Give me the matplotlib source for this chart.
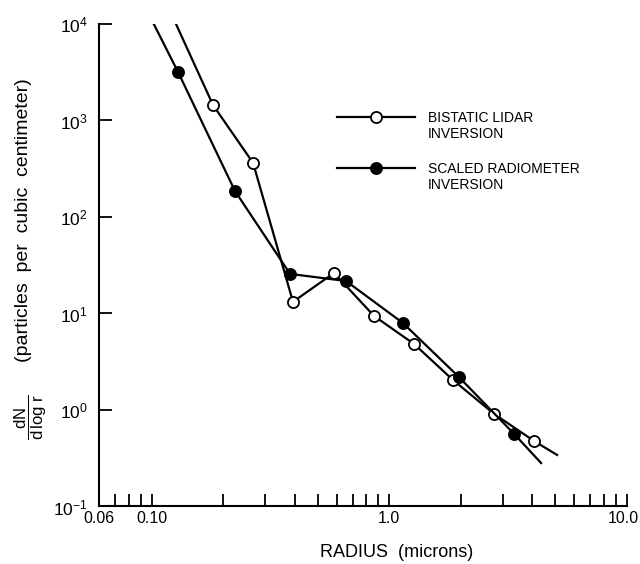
import matplotlib
matplotlib.use("Agg")
import numpy as np
import matplotlib.pyplot as plt
import matplotlib.transforms as mtransforms
from matplotlib.ticker import FixedLocator, NullFormatter, LogFormatterSciNotation
from matplotlib.lines import Line2D

plt.rcParams['font.family'] = ['Liberation Sans', 'DejaVu Sans']
plt.rcParams['mathtext.fontset'] = 'custom'
plt.rcParams['mathtext.rm'] = 'Liberation Sans'
plt.rcParams['mathtext.it'] = 'Liberation Sans'

# bistatic lidar inversion (first and last entries are the line ends, no marker)
lidar_r = [0.1265, 0.181, 0.267, 0.393, 0.585, 0.862, 1.27, 1.85, 2.76, 4.06, 5.08]
lidar_n = [10000, 1448, 363, 13.2, 26.3, 9.42, 4.83, 2.05, 0.91, 0.477, 0.342]

# scaled radiometer inversion
radio_r = [0.102, 0.129, 0.224, 0.382, 0.657, 1.14, 1.96, 3.35, 4.35]
radio_n = [10000, 3180, 186, 25.7, 21.7, 7.97, 2.20, 0.564, 0.282]

xticks_major = [0.06, 0.10, 1.0, 10.0]
xtick_labels = ["0.06", "0.10", "1.0", "10.0"]
xticks_minor = [0.07, 0.08, 0.09, 0.2, 0.3, 0.4, 0.5, 0.6, 0.7, 0.8, 0.9,
                2, 3, 4, 5, 6, 7, 8, 9]

fig = plt.figure(figsize=(6.4, 5.64), dpi=100)
ax = fig.add_axes([0.1547, 0.102, 0.825, 0.8555])

ax.plot(lidar_r, lidar_n, color='black', lw=1.6, marker='o', ms=8,
        mfc='white', mec='black', mew=1.3, markevery=slice(1, -1))
ax.plot(radio_r, radio_n, color='black', lw=1.6, marker='o', ms=8,
        mfc='black', mec='black', mew=1.3, markevery=slice(1, -1))

ax.set_xscale('log')
ax.set_yscale('log')
ax.set_xlim(0.06, 10.0)
ax.set_ylim(0.1, 1e4)

ax.spines['top'].set_visible(False)
ax.spines['right'].set_visible(False)
ax.spines['left'].set_linewidth(1.5)
ax.spines['bottom'].set_linewidth(1.5)

ax.xaxis.set_major_locator(FixedLocator(xticks_major))
ax.set_xticklabels(xtick_labels)
ax.xaxis.set_minor_locator(FixedLocator(xticks_minor))
ax.xaxis.set_minor_formatter(NullFormatter())
ax.tick_params(axis='x', which='both', direction='in', length=9, width=1.3,
               labelsize=11.5, pad=3)
# keep "10.0" inside the figure
last = ax.get_xticklabels()[-1]
last.set_ha('right')
last.set_transform(last.get_transform() +
                   mtransforms.ScaledTranslation(0.12, 0, fig.dpi_scale_trans))

ax.yaxis.set_major_locator(FixedLocator([0.1, 1, 10, 100, 1000, 10000]))
ax.yaxis.set_major_formatter(LogFormatterSciNotation())
ax.yaxis.set_minor_locator(FixedLocator([]))
ax.tick_params(axis='y', which='major', direction='in', length=9, width=1.3,
               labelsize=12.5, pad=8)

h1 = Line2D([], [], color='black', lw=1.6, marker='o', ms=8, mfc='white',
            mec='black', mew=1.3)
h2 = Line2D([], [], color='black', lw=1.6, marker='o', ms=8, mfc='black',
            mec='black', mew=1.3)
leg = fig.legend([h1, h2], ["BISTATIC LIDAR\nINVERSION", "SCALED RADIOMETER\nINVERSION"],
                 loc='upper left', bbox_to_anchor=(0.527, 0.803), frameon=False,
                 borderpad=0, borderaxespad=0, handlelength=5.6, handletextpad=0.9,
                 labelspacing=1.5, fontsize=10, numpoints=1)
# lift the sample lines so they sit on the first text line
for h in leg.legend_handles:
    h.set_ydata(np.asarray(h.get_ydata()) + 7.2)

fig.text(0.62, 0.02, "RADIUS  (microns)", ha='center', va='center', fontsize=13)
fig.text(0.036, 0.61, "(particles  per  cubic  centimeter)", rotation=90,
         ha='center', va='center', fontsize=14)
fig.text(0.048, 0.26, r"$\dfrac{dN}{d\,\log\,r}$", rotation=90,
         ha='center', va='center', fontsize=12)

fig.savefig("out.png", dpi=100)
